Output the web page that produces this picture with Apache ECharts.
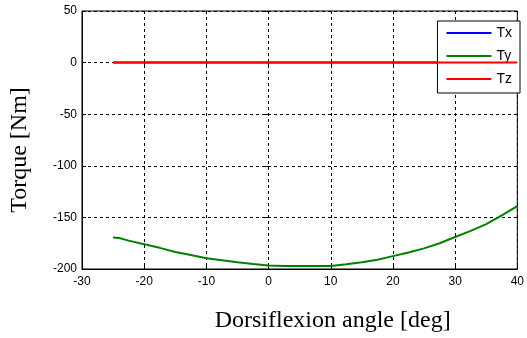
<!DOCTYPE html>
<html>
<head>
<meta charset="utf-8">
<script src="https://cdn.jsdelivr.net/npm/echarts@6/dist/echarts.min.js"></script>
<style>
  html, body { margin: 0; padding: 0; background: #fff; }
  #chart { width: 527px; height: 338px; }
</style>
</head>
<body>
<div id="chart"></div>
<script>
// angle samples [deg]
const angles = [-25, -24, -22.5, -20, -17.5, -15, -12.5, -10, -7.5, -5, -2.5, 0, 2.5, 5, 7.5, 10,
  12.5, 15, 17.5, 20, 22.5, 25, 27.5, 30, 32.5, 35, 37.5, 40];
const tx = [0, 0, 0, 0, 0, 0, 0, 0, 0, 0, 0, 0, 0, 0, 0, 0, 0, 0, 0, 0, 0, 0, 0, 0, 0, 0, 0, 0];
const ty = [-169.5, -170, -172.5, -176, -179.5, -183.5, -186.5, -189.5, -191.5, -193.5, -195.2, -196.5,
  -197, -197, -197, -197, -195.5, -193.5, -191, -187.5, -184, -180, -175, -169, -163, -156.5, -148, -139];
const tz = [0, 0, 0, 0, 0, 0, 0, 0, 0, 0, 0, 0, 0, 0, 0, 0, 0, 0, 0, 0, 0, 0, 0, 0, 0, 0, 0, 0];
const seriesNames = ['Tx', 'Ty', 'Tz'];
const seriesColors = ['#0000ff', '#008000', '#ff0000'];

const pairs = (vals) => angles.map((a, i) => [a, vals[i]]);

const myChart = echarts.init(document.getElementById('chart'));
const gridLine = { show: true, lineStyle: { type: [3, 3], color: '#000', width: 1 } };
const tickFont = { fontFamily: 'Liberation Sans, Arial', fontSize: 12, color: '#000' };

const option = {
  animation: false,
  backgroundColor: '#fff',
  grid: {
    left: 81, right: 7, top: 11, bottom: 69,
    show: true, borderColor: '#000', borderWidth: 1, backgroundColor: 'transparent',
  },
  legend: {
    orient: 'vertical',
    right: 7,
    top: 21,
    data: seriesNames,
    icon: 'rect',
    itemWidth: 45,
    itemHeight: 2,
    itemGap: 9,
    padding: [5, 8, 7, 9],
    borderColor: '#000',
    borderWidth: 1,
    backgroundColor: '#fff',
    borderRadius: 0,
    textStyle: { fontFamily: 'Liberation Sans, Arial', fontSize: 14, color: '#000' },
  },
  xAxis: [{
    type: 'value',
    min: -30,
    max: 40,
    interval: 10,
    name: 'Dorsiflexion angle [deg]',
    nameLocation: 'middle',
    nameGap: 40,
    nameTextStyle: {
      fontFamily: 'Liberation Serif, Times New Roman', fontSize: 24, color: '#000',
      padding: [0, 0, 0, 66],
    },
    axisLine: { show: true, onZero: false, lineStyle: { color: '#000' } },
    axisTick: { show: true, inside: true, length: 4, lineStyle: { color: '#000' } },
    axisLabel: { ...tickFont, margin: 7 },
    splitLine: gridLine,
  }, {
    type: 'value',
    position: 'top',
    min: -30,
    max: 40,
    interval: 10,
    axisLine: { show: false },
    axisTick: { show: true, inside: true, length: 4, lineStyle: { color: '#000' } },
    axisLabel: { show: false },
    splitLine: { show: false },
  }],
  yAxis: [{
    type: 'value',
    min: -200,
    max: 50,
    interval: 50,
    name: 'Torque [Nm]',
    nameLocation: 'middle',
    nameRotate: 90,
    nameGap: 50,
    nameTextStyle: {
      fontFamily: 'Liberation Serif, Times New Roman', fontSize: 24, color: '#000',
      padding: [0, 20, 0, 0],
    },
    axisLine: { show: true, onZero: false, lineStyle: { color: '#000' } },
    axisTick: { show: true, inside: true, length: 4, lineStyle: { color: '#000' } },
    axisLabel: { ...tickFont, margin: 5 },
    splitLine: gridLine,
  }, {
    type: 'value',
    position: 'right',
    min: -200,
    max: 50,
    interval: 50,
    axisLine: { show: false },
    axisTick: { show: true, inside: true, length: 4, lineStyle: { color: '#000' } },
    axisLabel: { show: false },
    splitLine: { show: false },
  }],
  series: [tx, ty, tz].map((vals, i) => ({
    name: seriesNames[i],
    type: 'line',
    xAxisIndex: 0,
    yAxisIndex: 0,
    data: pairs(vals),
    showSymbol: false,
    color: seriesColors[i],
    lineStyle: { width: 2, color: seriesColors[i] },
    z: 2 + i,
  })),
};

myChart.setOption(option);
</script>
</body>
</html>
